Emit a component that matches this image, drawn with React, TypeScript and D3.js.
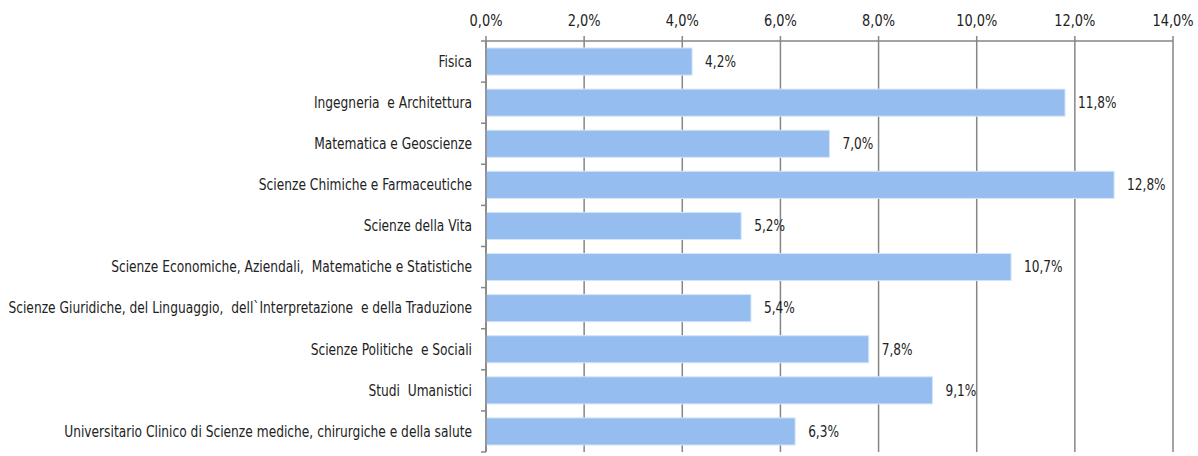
import * as React from 'react';
import * as d3 from 'd3';

const categories = [
    'Fisica',
    'Ingegneria  e Architettura',
    'Matematica e Geoscienze',
    'Scienze Chimiche e Farmaceutiche',
    'Scienze della Vita',
    'Scienze Economiche, Aziendali,  Matematiche e Statistiche',
    'Scienze Giuridiche, del Linguaggio,  dell`Interpretazione  e della Traduzione',
    'Scienze Politiche  e Sociali',
    'Studi  Umanistici',
    'Universitario Clinico di Scienze mediche, chirurgiche e della salute',
];
const values = [4.2, 11.8, 7.0, 12.8, 5.2, 10.7, 5.4, 7.8, 9.1, 6.3];
const xTicks = [0, 2, 4, 6, 8, 10, 12, 14];

const width = 1198;
const height = 456;
const margins = { top: 41, bottom: 4, left: 486, right: 25 };
const font = '"DejaVu Sans Condensed", "Liberation Sans Narrow", sans-serif';
const gridColor = '#868686';
const barColor = '#95bdf0';
const squeeze = 0.9;

const fmt = (v: number) => v.toFixed(1).replace('.', ',') + '%';

export default function App() {
    const x = d3.scaleLinear().domain([0, 14]).range([margins.left, width - margins.right]);
    const y = d3.scaleBand<string>()
        .domain(categories)
        .range([margins.top, height - margins.bottom])
        .paddingInner(0.34)
        .paddingOuter(0.17);
    const step = y.step();
    const bandStart = (i: number) => margins.top + i * step;
    const mid = (c: string) => (y(c) || 0) + y.bandwidth() / 2;

    return (
        <svg width={width} height={height}
            style={{ position: 'absolute', left: 0, top: 0, background: '#fff' }}>
            {/* vertical gridlines + top ticks */}
            {xTicks.map(t => (
                <g key={t}>
                    <line x1={x(t)} x2={x(t)} y1={margins.top - 5} y2={height - margins.bottom}
                        stroke={gridColor} strokeWidth={1.5} />
                    <text transform={`translate(${x(t)},26) scale(${squeeze},1)`} textAnchor="middle"
                        fontFamily={font} fontSize={16} fill="#222">{fmt(t)}</text>
                </g>
            ))}
            <line x1={x(0)} x2={x(14)} y1={margins.top} y2={margins.top} stroke={gridColor} strokeWidth={1.5} />

            {/* bars */}
            {categories.map((c, i) => (
                <g key={c}>
                    <rect x={x(0)} y={y(c)} width={x(values[i]) - x(0)} height={y.bandwidth()}
                        fill={barColor} stroke="#d6e6fa" strokeWidth={1} />
                    <text transform={`translate(${x(values[i]) + 13},${mid(c)}) scale(${squeeze},1)`} dy="0.35em"
                        fontFamily={font} fontSize={15} fill="#222">{fmt(values[i])}</text>
                    <text transform={`translate(${x(0) - 14},${mid(c)}) scale(0.908,1)`} dy="0.35em" textAnchor="end"
                        fontFamily={font} fontSize={15} fill="#222" style={{ whiteSpace: 'pre' }}>{c}</text>
                </g>
            ))}

            {/* left axis */}
            <line x1={x(0)} x2={x(0)} y1={margins.top} y2={height - margins.bottom} stroke={gridColor} strokeWidth={1.5} />
            {d3.range(categories.length + 1).map(i => (
                <line key={i} x1={x(0) - 5} x2={x(0)} y1={bandStart(i)} y2={bandStart(i)}
                    stroke={gridColor} strokeWidth={1.5} />
            ))}
        </svg>
    );
}
